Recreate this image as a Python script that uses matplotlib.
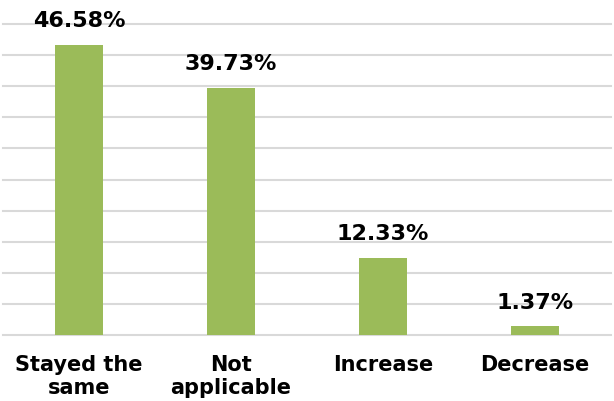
import numpy as np
import matplotlib.pyplot as plt

categories = ["Stayed the\nsame", "Not\napplicable", "Increase", "Decrease"]
values = [46.58, 39.73, 12.33, 1.37]
value_labels = ["46.58%", "39.73%", "12.33%", "1.37%"]

plt.rcParams['font.family'] = 'DejaVu Sans'
plt.rcParams['font.weight'] = 'bold'

fig = plt.figure(figsize=(6.14, 4.01), dpi=100)
ax = fig.add_axes([3 / 614, 66 / 401, 608 / 614, 311 / 401])

x = np.arange(len(categories))
bars = ax.bar(x, values, width=0.316, color='#9BBB59', zorder=3)

ax.set_xlim(-0.5, len(categories) - 0.5)
ax.set_ylim(0, 50)
ax.set_yticks(np.arange(0, 51, 5))
ax.yaxis.grid(True, color='#D9D9D9', linewidth=1.5, zorder=0)
for gl in ax.get_ygridlines():
    gl.set_clip_on(False)
ax.tick_params(axis='y', left=False, labelleft=False)
ax.tick_params(axis='x', bottom=False, pad=11)
for s in ax.spines.values():
    s.set_visible(False)

ax.set_xticks(x)
ax.set_xticklabels(categories, fontsize=15, fontweight='bold', linespacing=1.2)

for b, lab in zip(bars, value_labels):
    ax.annotate(lab, (b.get_x() + b.get_width() / 2, b.get_height()),
                xytext=(0, 10), textcoords='offset points',
                ha='center', va='bottom', fontsize=16, fontweight='bold')

fig.savefig('out.png', dpi=100)
